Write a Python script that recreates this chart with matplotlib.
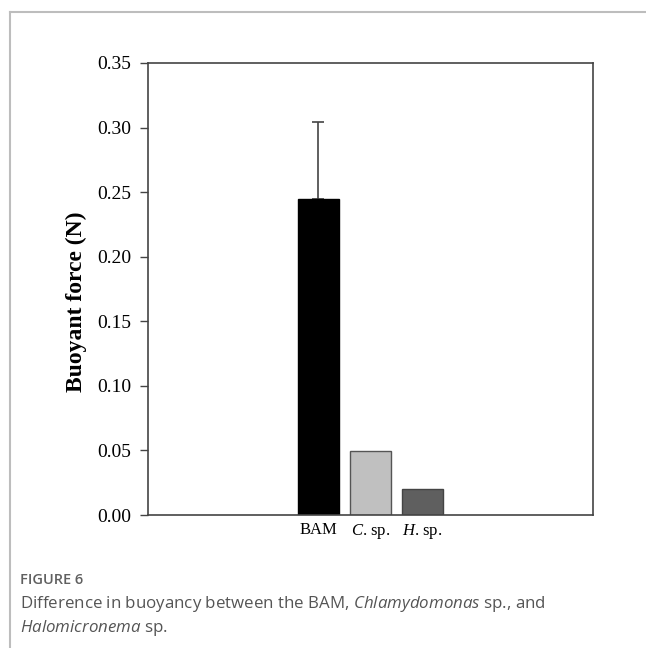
import numpy as np
import matplotlib
matplotlib.use("Agg")
import matplotlib.pyplot as plt
from matplotlib.lines import Line2D

categories = ["BAM", r"$\mathit{C}$. sp.", r"$\mathit{H}$. sp."]
force = [0.245, 0.0495, 0.0198]
force_err = [0.059, 0.0, 0.0]
bar_colors = ["#000000", "#c0c0c0", "#5f5f5f"]
yticks = [0.00, 0.05, 0.10, 0.15, 0.20, 0.25, 0.30, 0.35]

plt.rcParams["mathtext.fontset"] = "custom"
plt.rcParams["mathtext.it"] = "Liberation Serif:italic"
plt.rcParams["mathtext.rm"] = "Liberation Serif"
plt.rcParams["mathtext.sf"] = "Open Sans:italic"

fig = plt.figure(figsize=(6.46, 6.48), dpi=100)
ax = fig.add_axes([0.229, 0.2052, 0.689, 0.6976])

x = np.arange(len(categories))
ax.bar(x, force, width=0.8, color=bar_colors, edgecolor=["#000000", "#555555", "#444444"],
       linewidth=1.0, zorder=2)
ax.errorbar(x[:1], force[:1], yerr=[[0], force_err[:1]], fmt="none", ecolor="#444444",
            elinewidth=1.2, capsize=4.5, capthick=1.2, zorder=1)

ax.set_xlim(-3.28, 5.28)
ax.set_ylim(0, 0.35)
ax.set_yticks(yticks)
ax.set_yticklabels([f"{v:.2f}" for v in yticks], fontfamily="Liberation Serif", fontsize=14)
ax.set_xticks(x)
ax.set_xticklabels(categories, fontfamily="Liberation Serif", fontsize=12)
ax.tick_params(axis="x", length=0, pad=5)
ax.tick_params(axis="y", direction="out", length=6, width=1.0, color="#444444", pad=6)
for s in ax.spines.values():
    s.set_color("#444444")
    s.set_linewidth(1.2)
ax.set_ylabel("Buoyant force (N)", fontfamily="Liberation Serif", fontweight="bold",
              fontsize=17)
ax.yaxis.set_label_coords(-0.137, 0.471)

# journal frame
fig.add_artist(Line2D([10 / 646, 1.0], [1 - 12 / 648, 1 - 12 / 648], color="#bdbdbd", lw=1.5))
fig.add_artist(Line2D([10 / 646, 10 / 646], [0, 1 - 12 / 648], color="#bdbdbd", lw=1.5))

fig.text(20 / 646, 1 - 580 / 648, "FIGURE 6", fontfamily="Open Sans", fontweight="semibold",
         fontsize=10.5, color="#606060", va="center")
fig.text(20 / 646, 1 - 604 / 648,
         r"Difference in buoyancy between the BAM, $\mathsf{Chlamydomonas}$ sp., and",
         fontfamily="Open Sans", fontsize=12.2, color="#555555", va="center")
fig.text(20 / 646, 1 - 628 / 648, r"$\mathsf{Halomicronema}$ sp.",
         fontfamily="Open Sans", fontsize=12.2, color="#555555", va="center")

fig.savefig("out.png", dpi=100)
